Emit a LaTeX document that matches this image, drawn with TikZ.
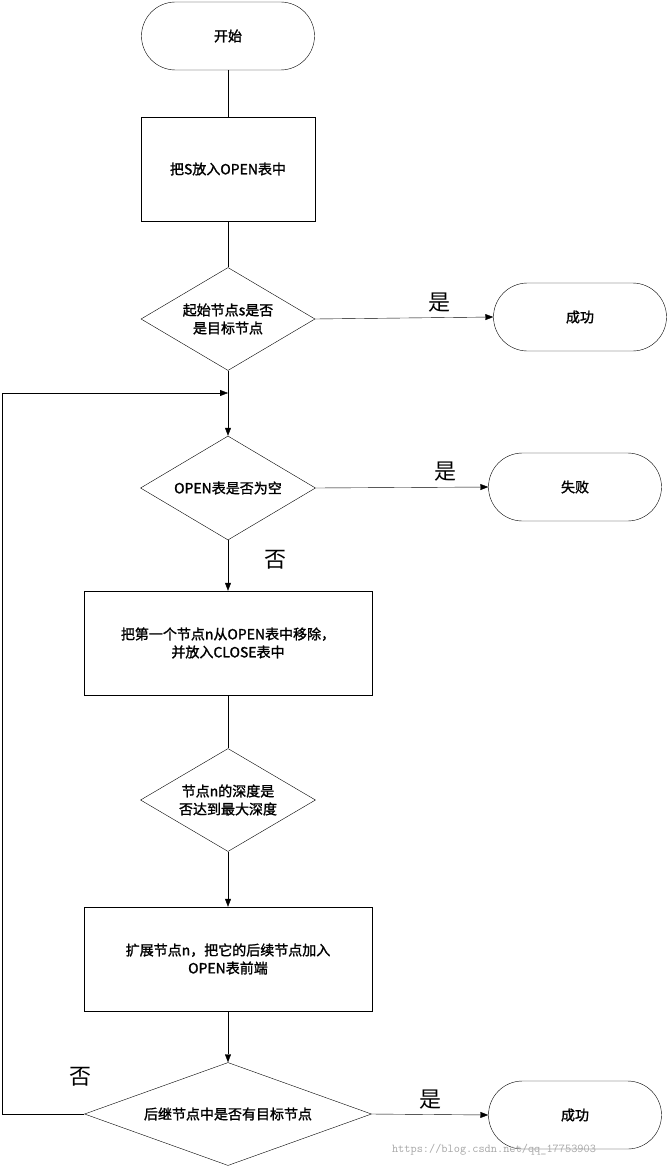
\documentclass[tikz,border=0pt]{standalone}
\usepackage{fontspec}
\setmainfont{Noto Sans CJK SC}[AutoFakeBold=1.5]
\usetikzlibrary{shapes.geometric,arrows.meta}
\begin{document}
\begin{tikzpicture}[x=1pt,y=-1pt,
  every node/.style={font=\fontsize{14}{18}\selectfont\bfseries, align=center},
  term/.style={draw, rounded corners=34pt, minimum width=173pt, minimum height=68pt, inner sep=0pt},
  box/.style={draw, minimum height=104pt, inner sep=0pt},
  big/.style={font=\fontsize{22}{24}\selectfont},
  arr/.style={-{Triangle[length=8pt,width=6pt]}}]
\useasboundingbox (0,0) rectangle (669,1169);
\node[term] (start) at (228,36) {开始};
\node[box, minimum width=174pt] (b1) at (228,169) {把S放入OPEN表中};
\node[draw, diamond, minimum width=174pt, minimum height=103pt, inner sep=0pt, aspect=1.7] (d1) at (228,319) {起始节点s是否\\是目标节点};
\node[term] (ok1) at (580,317) {成功};
\node[draw, diamond, minimum width=175pt, minimum height=104pt, inner sep=0pt, aspect=1.7] (d2) at (228,488) {OPEN表是否为空};
\node[term] (fail) at (575,487) {失败};
\node[box, minimum width=288pt] (b2) at (228,643) {把第一个节点n从OPEN表中移除，\\并放入CLOSE表中};
\node[draw, diamond, minimum width=175pt, minimum height=103pt, inner sep=0pt, aspect=1.7] (d3) at (228,800) {节点n的深度是\\否达到最大深度};
\node[box, minimum width=288pt] (b3) at (228,959) {扩展节点n，把它的后续节点加入\\OPEN表前端};
\node[draw, diamond, minimum width=287pt, minimum height=103pt, inner sep=0pt, aspect=2.8] (d4) at (228,1114) {后继节点中是否有目标节点};
\node[term] (ok2) at (575,1115) {成功};
\coordinate (c1) at (228,393);
\coordinate (c2) at (2,393);
\coordinate (c3) at (2,1114);
\draw (start) -- (b1);
\draw (b1) -- (d1);
\draw[arr] (d1.east) -- (ok1.west) node[pos=0.7, above=2pt, big] (y1) {是};
\draw (d1.south) -- (c1);
\draw[arr] (c1) -- (d2.north);
\draw[arr] (d2.east) -- (fail.west) node[pos=0.75, above=2pt, big] (y2) {是};
\draw[arr] (d2.south) -- (b2.north);
\node[big] (n1) at (275,560) {否};
\draw (b2) -- (d3);
\draw[arr] (d3.south) -- (b3.north);
\draw[arr] (b3.south) -- (d4.north);
\draw[arr] (d4.east) -- (ok2.west) node[pos=0.5, above=2pt, big] (y3) {是};
\draw[arr] (d4.west) -- (c3) -- (c2) -- (c1);
\node[big] (n2) at (80,1077) {否};
\node[font=\fontsize{12}{13}\ttfamily, text=black!35] (wm) at (494,1150) {https://blog.csdn.net/qq\_17753903};
\end{tikzpicture}
\end{document}
